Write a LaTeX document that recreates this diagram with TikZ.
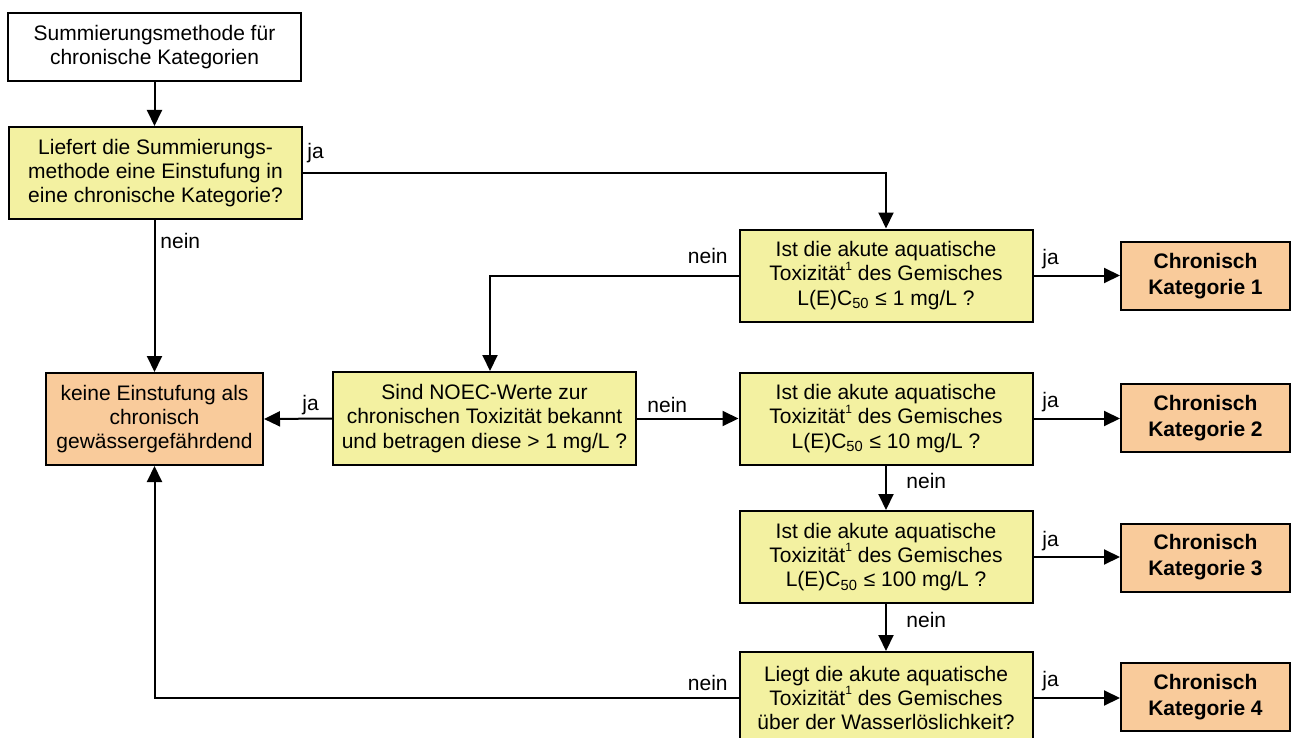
\documentclass[tikz,border=0pt]{standalone}
\usepackage{fontspec}
\setmainfont{Liberation Sans}
\usetikzlibrary{arrows.meta}
\definecolor{boxyellow}{RGB}{243,241,161}
\definecolor{boxorange}{RGB}{249,203,155}
\tikzset{
  basebox/.style={draw=black, line width=1pt, align=center, inner sep=0pt,
    font=\fontsize{10.5}{12.2}\selectfont},
  startbox/.style={basebox, fill=white, minimum width=146.5pt, minimum height=34pt},
  qbox/.style={basebox, fill=boxyellow, minimum width=146.5pt, minimum height=46pt},
  endbox/.style={basebox, fill=boxorange},
  catbox/.style={basebox, fill=boxorange, minimum width=84.5pt, minimum height=34pt,
    font=\bfseries\fontsize{10.5}{13}\selectfont},
  arr/.style={line width=1pt, -{Triangle[length=8pt,width=7.5pt]}},
  lbl/.style={inner sep=0pt, font=\fontsize{10.5}{12.2}\selectfont}
}
\newcommand{\supone}{\raisebox{0.95ex}{\fontsize{6}{6}\selectfont 1}}
\newcommand{\tox}{Toxizit\"at\supone{} des Gemisches}
\begin{document}
\begin{tikzpicture}[x=0.5pt,y=-0.5pt]
\useasboundingbox (0,0) rectangle (1291,738);
\clip (0,0) rectangle (1291,738);
\fill[white] (0,0) rectangle (1291,738);

% nodes
\node[startbox] (top) at (154.5,47) {Summierungsmethode f\"ur\\chronische Kategorien};
\node[qbox] (b1) at (155.5,173) {Liefert die Summierungs-\\methode eine Einstufung in\\eine chronische Kategorie?};
\node[endbox, minimum width=108.5pt, minimum height=46pt] (keine) at (154.5,419) {keine Einstufung als\\chronisch\\gew\"assergef\"ahrdend};
\node[qbox, minimum width=151.5pt, minimum height=46.5pt] (sind) at (484.5,418.5) {Sind NOEC-Werte zur\\chronischen Toxizit\"at bekannt\\und betragen diese > 1 mg/L ?};
\node[qbox] (q1) at (886,275.5) {Ist die akute aquatische\\\tox\\L(E)C\textsubscript{50} ≤ 1 mg/L ?};
\node[qbox] (q2) at (886,418.5) {Ist die akute aquatische\\\tox\\L(E)C\textsubscript{50} ≤ 10 mg/L ?};
\node[qbox] (q3) at (886,557) {Ist die akute aquatische\\\tox\\L(E)C\textsubscript{50} ≤ 100 mg/L ?};
\node[qbox] (q4) at (886,698) {Liegt die akute aquatische\\\tox\\\"uber der Wasserl\"oslichkeit?};
\node[catbox] (c1) at (1205.5,276) {Chronisch\\Kategorie 1};
\node[catbox] (c2) at (1205.5,418) {Chronisch\\Kategorie 2};
\node[catbox] (c3) at (1205.5,557.5) {Chronisch\\Kategorie 3};
\node[catbox] (c4) at (1205.5,697) {Chronisch\\Kategorie 4};

\coordinate (kn) at (490,275.5);

% connectors
\draw[arr] (top.south) -- (top.south |- b1.north);
\draw[arr] (b1.south -| keine) -- (keine.north);
\draw[arr] (b1.east) -| (q1.north);
\draw[arr] (q1.west) -| (kn |- sind.north);
\draw[arr] (sind.west) -- (keine.east);
\draw[arr] (sind.east) -- (q2.west);
\draw[arr] (q2.south) -- (q3.north);
\draw[arr] (q3.south) -- (q4.north);
\draw[arr] (q4.west) -| (keine.south);
\draw[arr] (q1.east) -- (q1.east -| c1.west);
\draw[arr] (q2.east) -- (q2.east -| c2.west);
\draw[arr] (q3.east) -- (q3.east -| c3.west);
\draw[arr] (q4.east) -- (q4.east -| c4.west);

% labels
\node[lbl, anchor=west] (l1) at (307,153) {ja};
\node[lbl, anchor=west] (l2) at (160,241) {nein};
\node[lbl, anchor=east] (l3) at (728,256) {nein};
\node[lbl, anchor=west] (l4) at (1042,259) {ja};
\node[lbl, anchor=west] (l5) at (302,405) {ja};
\node[lbl, anchor=west] (l6) at (647,405) {nein};
\node[lbl, anchor=west] (l7) at (1042,402) {ja};
\node[lbl, anchor=west] (l8) at (906,481) {nein};
\node[lbl, anchor=west] (l9) at (1042,541) {ja};
\node[lbl, anchor=west] (l10) at (906,620) {nein};
\node[lbl, anchor=west] (l11) at (1042,681) {ja};
\node[lbl, anchor=east] (l12) at (728,683) {nein};
\end{tikzpicture}
\end{document}
